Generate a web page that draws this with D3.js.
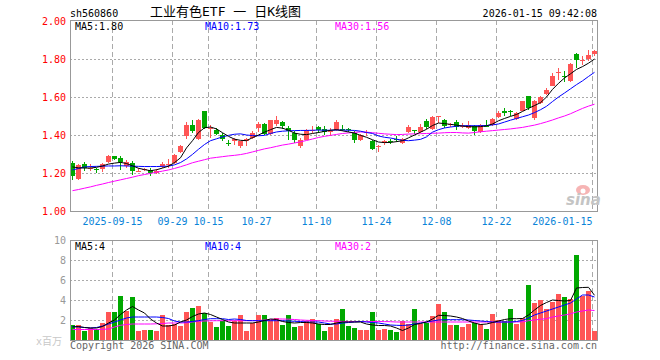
<!DOCTYPE html>
<html><head><meta charset="utf-8">
<script src="https://cdn.jsdelivr.net/npm/d3@7"></script>
<style>body{margin:0;background:#fff}svg{display:block}</style>
</head><body><svg id="c" width="660" height="360"></svg>
<script>
const dates = [
"2025-09-04","2025-09-05","2025-09-08","2025-09-09","2025-09-10","2025-09-11","2025-09-12","2025-09-15","2025-09-16","2025-09-17",
"2025-09-18","2025-09-19","2025-09-22","2025-09-23","2025-09-24","2025-09-25","2025-09-26","2025-09-29","2025-09-30","2025-10-09",
"2025-10-10","2025-10-13","2025-10-14","2025-10-15","2025-10-16","2025-10-17","2025-10-20","2025-10-21","2025-10-22","2025-10-23",
"2025-10-24","2025-10-27","2025-10-28","2025-10-29","2025-10-30","2025-10-31","2025-11-03","2025-11-04","2025-11-05","2025-11-06",
"2025-11-07","2025-11-10","2025-11-11","2025-11-12","2025-11-13","2025-11-14","2025-11-17","2025-11-18","2025-11-19","2025-11-20",
"2025-11-21","2025-11-24","2025-11-25","2025-11-26","2025-11-27","2025-11-28","2025-12-01","2025-12-02","2025-12-03","2025-12-04",
"2025-12-05","2025-12-08","2025-12-09","2025-12-10","2025-12-11","2025-12-12","2025-12-15","2025-12-16","2025-12-17","2025-12-18",
"2025-12-19","2025-12-22","2025-12-23","2025-12-24","2025-12-25","2025-12-26","2025-12-29","2025-12-30","2025-12-31","2026-01-05",
"2026-01-06","2026-01-07","2026-01-08","2026-01-09","2026-01-12","2026-01-13","2026-01-14","2026-01-15"];

const openP = [1.252,1.168,1.247,1.224,1.219,1.221,1.256,1.287,1.280,1.235,
1.252,1.210,1.217,1.214,1.200,1.238,1.245,1.252,1.308,1.393,
1.454,1.380,1.524,1.435,1.428,1.402,1.360,1.366,1.340,1.366,
1.384,1.437,1.456,1.403,1.459,1.470,1.437,1.410,1.340,1.375,
1.422,1.440,1.431,1.418,1.424,1.433,1.431,1.410,1.372,1.412,
1.370,1.338,1.358,1.370,1.377,1.360,1.416,1.428,1.417,1.472,
1.431,1.496,1.480,1.452,1.466,1.447,1.437,1.445,1.414,1.449,
1.454,1.494,1.524,1.526,1.484,1.528,1.607,1.489,1.568,1.617,
1.659,1.729,1.710,1.682,1.828,1.791,1.800,1.828];
const closeP = [1.182,1.244,1.226,1.228,1.214,1.247,1.287,1.273,1.256,1.259,
1.209,1.213,1.222,1.200,1.209,1.247,1.249,1.296,1.340,1.454,
1.419,1.480,1.437,1.439,1.405,1.380,1.356,1.379,1.366,1.377,
1.410,1.459,1.403,1.477,1.480,1.445,1.419,1.375,1.375,1.424,
1.426,1.428,1.414,1.421,1.466,1.429,1.426,1.372,1.398,1.415,
1.328,1.342,1.370,1.361,1.374,1.377,1.440,1.419,1.442,1.442,
1.494,1.498,1.449,1.456,1.442,1.450,1.454,1.419,1.454,1.445,
1.484,1.516,1.516,1.522,1.516,1.577,1.542,1.577,1.600,1.638,
1.708,1.733,1.706,1.775,1.793,1.795,1.823,1.840];
const highP = [1.261,1.248,1.256,1.247,1.228,1.252,1.296,1.291,1.287,1.266,
1.261,1.226,1.228,1.226,1.219,1.259,1.275,1.300,1.347,1.468,
1.480,1.484,1.526,1.454,1.437,1.410,1.375,1.384,1.370,1.384,
1.419,1.468,1.462,1.480,1.501,1.475,1.445,1.419,1.382,1.431,
1.445,1.449,1.445,1.437,1.480,1.454,1.437,1.419,1.405,1.424,
1.375,1.349,1.375,1.379,1.393,1.384,1.454,1.428,1.459,1.484,
1.498,1.498,1.484,1.463,1.480,1.463,1.472,1.454,1.459,1.477,
1.489,1.524,1.542,1.533,1.521,1.580,1.607,1.586,1.605,1.647,
1.726,1.752,1.735,1.779,1.831,1.817,1.849,1.849];
const lowP = [1.165,1.165,1.209,1.212,1.198,1.205,1.252,1.270,1.214,1.226,
1.191,1.204,1.212,1.186,1.196,1.226,1.226,1.249,1.305,1.380,
1.410,1.375,1.431,1.384,1.401,1.366,1.342,1.349,1.333,1.340,
1.379,1.417,1.398,1.398,1.449,1.431,1.372,1.357,1.331,1.372,
1.410,1.410,1.401,1.393,1.419,1.419,1.414,1.357,1.368,1.394,
1.319,1.310,1.349,1.354,1.361,1.354,1.410,1.407,1.410,1.431,
1.428,1.463,1.437,1.442,1.428,1.437,1.433,1.398,1.410,1.442,
1.449,1.489,1.498,1.498,1.480,1.524,1.533,1.480,1.563,1.612,
1.656,1.691,1.677,1.677,1.752,1.770,1.787,1.814];

const volume = [1.47,1.47,0.93,1.2,1.1,1.7,2.8,2.77,4.43,2.93,
4.27,0.93,1.03,1.03,0.93,2.53,1.53,1.6,1.37,2.83,
3.23,3.43,2.7,1.77,1.27,1.93,1.37,1.87,2.47,0.93,
1.7,2.47,2.47,2.03,2.2,1.53,2.47,1.27,1.37,1.93,
2.13,1.6,0.93,1.27,2.13,3.13,1.37,1.2,1.03,1.03,
2.8,1.03,1.13,1.03,0.83,1.93,1.6,3.13,1.6,1.7,
2.37,3.63,2.83,1.47,1.53,1.27,1.6,1.7,1.6,1.13,
2.63,2.03,1.93,3.13,1.63,2.2,5.47,3.73,4.03,3.13,
3.77,4.63,4.27,4.13,8.47,4.43,4.93,0.93];

const ma5 = [1.232,1.227,1.226,1.226,1.230,1.237,1.247,1.252,1.256,1.250,
1.238,1.225,1.218,1.212,1.217,1.226,1.236,1.255,1.280,1.332,
1.370,1.413,1.438,1.442,1.432,1.412,1.393,1.378,1.372,1.370,
1.386,1.400,1.415,1.428,1.440,1.436,1.425,1.410,1.404,1.402,
1.408,1.413,1.419,1.425,1.428,1.422,1.416,1.410,1.398,1.388,
1.375,1.363,1.360,1.361,1.365,1.370,1.385,1.400,1.415,1.430,
1.450,1.463,1.460,1.456,1.452,1.447,1.444,1.443,1.444,1.448,
1.458,1.475,1.487,1.498,1.508,1.524,1.540,1.555,1.570,1.600,
1.640,1.672,1.700,1.722,1.745,1.760,1.778,1.800];
const ma10 = [1.216,1.224,1.232,1.234,1.235,1.236,1.237,1.237,1.238,1.237,
1.236,1.235,1.234,1.234,1.234,1.235,1.236,1.243,1.255,1.274,
1.298,1.325,1.350,1.370,1.380,1.390,1.398,1.404,1.406,1.400,
1.397,1.396,1.398,1.408,1.416,1.420,1.422,1.423,1.424,1.424,
1.425,1.426,1.425,1.425,1.426,1.426,1.425,1.424,1.420,1.413,
1.408,1.395,1.388,1.384,1.378,1.372,1.370,1.373,1.377,1.390,
1.415,1.428,1.437,1.442,1.446,1.449,1.449,1.449,1.449,1.450,
1.453,1.458,1.468,1.478,1.487,1.496,1.505,1.518,1.533,1.551,
1.576,1.600,1.621,1.643,1.665,1.685,1.708,1.730];
const ma30 = [1.107,1.113,1.120,1.127,1.135,1.142,1.150,1.157,1.164,1.171,
1.178,1.186,1.192,1.198,1.204,1.210,1.216,1.224,1.233,1.243,
1.254,1.262,1.270,1.278,1.282,1.286,1.290,1.293,1.297,1.303,
1.311,1.319,1.327,1.333,1.340,1.347,1.352,1.358,1.364,1.371,
1.379,1.387,1.393,1.398,1.403,1.408,1.411,1.414,1.416,1.415,
1.412,1.409,1.406,1.404,1.402,1.403,1.405,1.406,1.407,1.408,
1.409,1.410,1.412,1.413,1.413,1.411,1.410,1.413,1.417,1.420,
1.423,1.426,1.429,1.432,1.436,1.440,1.446,1.452,1.460,1.469,
1.479,1.490,1.500,1.512,1.526,1.540,1.552,1.562];

const vma5 = [1.3,1.35,1.25,1.2,1.2,1.35,1.7,2.0,2.55,3.0,
3.35,3.0,2.7,2.1,1.7,1.4,1.4,1.5,1.8,2.0,
2.35,2.6,2.7,2.55,2.3,2.05,1.8,1.7,1.7,1.7,
1.7,1.8,1.95,2.1,2.05,1.85,1.75,1.7,1.75,1.75,
1.7,1.6,1.55,1.55,1.7,1.8,1.8,1.8,1.8,1.6,
1.5,1.45,1.45,1.4,1.2,0.95,1.2,1.55,1.65,1.8,
2.1,2.47,2.45,2.4,2.3,2.15,1.9,1.7,1.55,1.6,
1.75,1.9,2.05,2.13,2.13,2.15,2.5,3.0,3.45,3.75,
4.0,3.95,3.9,3.95,5.2,5.25,5.27,4.47];
const vma10 = [1.35,1.3,1.25,1.2,1.25,1.4,1.6,1.8,2.0,2.2,
2.3,2.3,2.3,2.3,2.3,2.25,2.15,1.9,1.8,1.8,
1.85,1.93,2.05,2.13,2.13,2.13,2.05,2.1,2.05,1.95,
1.93,1.93,1.93,1.93,1.93,1.93,1.9,1.87,1.85,1.8,
1.8,1.8,1.7,1.6,1.6,1.7,1.75,1.8,1.85,1.8,
1.75,1.7,1.6,1.5,1.47,1.45,1.5,1.6,1.7,1.8,
1.9,2.0,2.03,2.03,2.03,2.03,2.0,1.95,1.9,1.85,
1.8,1.8,1.8,1.8,1.85,1.95,2.2,2.5,2.7,2.9,
3.1,3.3,3.5,3.7,4.1,4.5,4.5,4.3];
const vma30 = [1.05,1.05,1.05,1.05,1.05,1.07,1.1,1.3,1.47,1.55,
1.6,1.6,1.6,1.6,1.62,1.65,1.7,1.7,1.7,1.72,
1.8,1.87,1.9,1.92,1.93,1.93,1.93,1.93,1.93,1.93,
1.94,1.95,2.0,2.05,2.1,2.1,2.08,2.05,2.0,1.97,
1.95,1.93,1.9,1.88,1.87,1.86,1.85,1.85,1.85,1.85,
1.85,1.85,1.84,1.83,1.8,1.8,1.8,1.8,1.8,1.8,
1.8,1.8,1.8,1.8,1.8,1.8,1.8,1.8,1.8,1.8,
1.8,1.8,1.8,1.8,1.8,1.82,1.93,2.0,2.08,2.13,
2.3,2.4,2.5,2.62,2.8,2.9,3.0,2.95];

const priceTicks = [1.0, 1.2, 1.4, 1.6, 1.8, 2.0];
const volTicks = [2, 4, 6, 8, 10];
const xTickDates = ["2025-09-15","2025-09-29","2025-10-15","2025-10-27","2025-11-10","2025-11-24","2025-12-08","2025-12-22","2026-01-15"];
const xTickLabels = ["2025-09-15","09-29","10-15","10-27","11-10","11-24","12-08","12-22","2026-01-15"];

const svg = d3.select('#c');
const F = "'DejaVu Sans Mono', monospace";
const L = 70, R = 597;
const RED = '#ff5555', GREEN = '#00a800', GRID = '#aaaaaa', BORDER = '#999999';

const xs = d3.scalePoint().domain(dates).range([72.5, 72.5 + 6 * (dates.length - 1)]);
const yP = d3.scaleLinear().domain([1, 2]).range([211, 21]);
const yV = d3.scaleLinear().domain([0, 10]).range([340, 240]);

const g = svg.append('g').attr('shape-rendering', 'crispEdges');

// horizontal dotted grids
g.selectAll('.hp').data(priceTicks.filter(v => v > 1 && v < 2)).enter().append('line')
  .attr('x1', L).attr('x2', R).attr('y1', d => Math.round(yP(d)) + 0.5).attr('y2', d => Math.round(yP(d)) + 0.5)
  .attr('stroke', GRID).attr('stroke-dasharray', '2,2');
g.selectAll('.hv').data(volTicks.filter(v => v < 10)).enter().append('line')
  .attr('x1', L).attr('x2', R).attr('y1', d => Math.round(yV(d)) + 0.5).attr('y2', d => Math.round(yV(d)) + 0.5)
  .attr('stroke', GRID).attr('stroke-dasharray', '2,2');

// vertical dashed grids
[[20, 211], [240, 340]].forEach(([a, b]) => {
  g.selectAll(null).data(xTickDates).enter().append('line')
    .attr('x1', d => xs(d) - 2).attr('x2', d => xs(d) - 2)
    .attr('y1', a).attr('y2', b)
    .attr('stroke', GRID).attr('stroke-dasharray', '5,3');
});

// watermark
const wm = svg.append('g');
wm.append('ellipse').attr('cx', 583).attr('cy', 190).attr('rx', 7).attr('ry', 5).attr('fill', '#f6b4b4');
wm.append('circle').attr('cx', 583).attr('cy', 191).attr('r', 2.5).attr('fill', '#fff');
wm.append('text').attr('x', 566).attr('y', 205).attr('font-family', 'DejaVu Sans, sans-serif')
  .attr('font-size', 15).attr('font-weight', 'bold').attr('font-style', 'italic').attr('fill', '#c4c4c4').text('sina');

// candles
const up = dates.map((d, i) => closeP[i] >= openP[i]);
const cg = g.append('g');
cg.selectAll('.wick').data(dates).enter().append('line')
  .attr('x1', d => xs(d)).attr('x2', d => xs(d))
  .attr('y1', (d, i) => yP(highP[i])).attr('y2', (d, i) => yP(lowP[i]))
  .attr('stroke', (d, i) => up[i] ? RED : GREEN);
cg.selectAll('.body').data(dates).enter().append('rect')
  .attr('x', d => xs(d) - 2.5).attr('width', 5)
  .attr('y', (d, i) => yP(Math.max(openP[i], closeP[i])))
  .attr('height', (d, i) => Math.max(1, Math.abs(yP(openP[i]) - yP(closeP[i]))))
  .attr('fill', (d, i) => up[i] ? RED : GREEN);

// volume bars
g.append('g').selectAll('rect').data(dates).enter().append('rect')
  .attr('x', d => xs(d) - 2.5).attr('width', 5)
  .attr('y', (d, i) => yV(volume[i])).attr('height', (d, i) => 340 - yV(volume[i]))
  .attr('fill', (d, i) => up[i] ? RED : GREEN);

// MA lines
const lines = svg.append('g');
function drawLine(arr, y, color) {
  const ln = d3.line().x((d, i) => xs(dates[i])).y(d => y(d));
  lines.append('path').attr('d', ln(arr)).attr('fill', 'none').attr('stroke', color).attr('stroke-width', 1);
}
drawLine(ma30, yP, '#ff00ff');
drawLine(ma10, yP, '#0000ff');
drawLine(ma5, yP, '#000000');
drawLine(vma30, yV, '#ff00ff');
drawLine(vma10, yV, '#0000ff');
drawLine(vma5, yV, '#000000');

// borders
g.append('rect').attr('x', L + 0.5).attr('y', 20.5).attr('width', R - L).attr('height', 191).attr('fill', 'none').attr('stroke', BORDER);
g.append('rect').attr('x', L + 0.5).attr('y', 240.5).attr('width', R - L).attr('height', 100).attr('fill', 'none').attr('stroke', BORDER);

// axes
const ay = svg.append('g').attr('transform', `translate(${L},0)`)
  .call(d3.axisLeft(yP).tickValues(priceTicks).tickFormat(d3.format('.2f')).tickSize(0).tickPadding(4));
ay.select('.domain').remove();
ay.selectAll('text').attr('fill', '#ff0000').attr('font-family', F).attr('font-size', 10);

const av = svg.append('g').attr('transform', `translate(${L},0)`)
  .call(d3.axisLeft(yV).tickValues(volTicks).tickFormat(d3.format('d')).tickSize(0).tickPadding(4));
av.select('.domain').remove();
av.selectAll('text').attr('fill', '#999999').attr('font-family', F).attr('font-size', 10);

svg.append('g').selectAll('text').data(xTickDates).enter().append('text')
  .attr('x', d => xs(d) - 2)
  .attr('y', 225)
  .attr('text-anchor', (d, i) => i === xTickDates.length - 1 ? 'end' : 'middle')
  .attr('font-family', F).attr('font-size', 10).attr('fill', '#0a84d8')
  .text((d, i) => xTickLabels[i]);

// texts
function txt(x, y, s, color, anchor, size, fam) {
  svg.append('text').attr('x', x).attr('y', y).attr('fill', color).attr('text-anchor', anchor || 'start')
    .attr('font-family', fam || F).attr('font-size', size || 10).text(s);
}
txt(70, 17, 'sh560860', '#000');
txt(597, 17, '2026-01-15 09:42:08', '#000', 'end');
txt(150, 16, '工业有色ETF 一 日K线图', '#000', 'start', 13, "'DejaVu Sans Mono', 'Noto Sans CJK SC', monospace");
const f2 = d3.format('.2f');
const last = a => a[a.length - 1];
txt(75, 30, 'MA5:' + f2(last(ma5)), '#000');
txt(205, 30, 'MA10:' + f2(last(ma10)), '#0000ff');
txt(335, 30, 'MA30:' + f2(last(ma30)), '#ff00ff');
txt(75, 250, 'MA5:' + Math.floor(last(vma5)), '#000');
txt(205, 250, 'MA10:' + Math.floor(last(vma10)), '#0000ff');
txt(335, 250, 'MA30:' + Math.floor(last(vma30)), '#ff00ff');
txt(62, 345, 'x百万', '#c8c8c8', 'end', 10, "'DejaVu Sans Mono', 'Noto Sans CJK SC', monospace");
txt(70, 349, 'Copyright 2026 SINA.COM', '#666');
txt(597, 349, 'http://finance.sina.com.cn', '#666', 'end');
</script>
</body></html>
